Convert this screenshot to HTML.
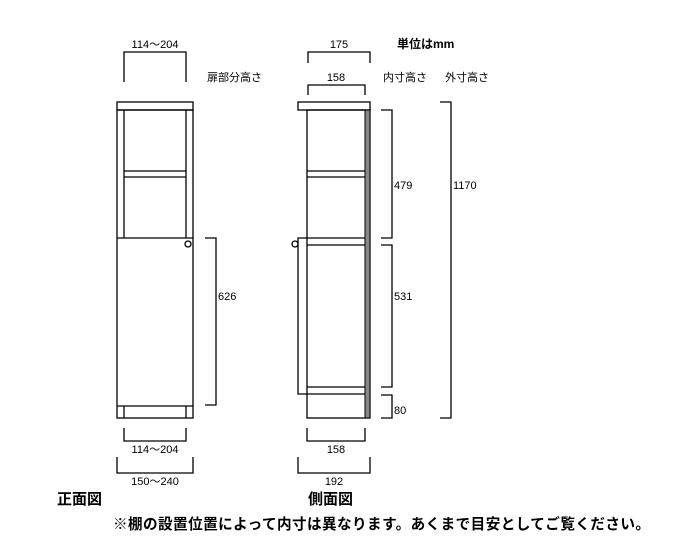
<!DOCTYPE html>
<html><head><meta charset="utf-8"><style>
body{margin:0;background:#fff}
svg{display:block}
text{font-family:"Liberation Sans","Noto Sans CJK JP",sans-serif;fill:#000}
</style></head><body>
<svg width="700" height="556" viewBox="0 0 700 556" xmlns="http://www.w3.org/2000/svg">
<g fill="none" stroke="#000" stroke-width="1.3">
<!-- front view -->
<rect x="117" y="102" width="76" height="8"/>
<rect x="117" y="110" width="76" height="308"/>
<line x1="124" y1="110" x2="124" y2="238"/>
<line x1="186" y1="110" x2="186" y2="238"/>
<line x1="124" y1="171" x2="186" y2="171"/>
<line x1="124" y1="177" x2="186" y2="177"/>
<line x1="117" y1="238" x2="193" y2="238"/>
<line x1="117" y1="406" x2="193" y2="406"/>
<line x1="124" y1="406" x2="124" y2="418"/>
<line x1="186" y1="406" x2="186" y2="418"/>
<circle cx="188" cy="244" r="3"/>
<!-- side view -->
<rect x="298" y="102" width="72" height="8"/>
<rect x="307" y="110" width="63" height="308"/>
<line x1="307" y1="171" x2="365" y2="171"/>
<line x1="307" y1="177" x2="365" y2="177"/>
<line x1="307" y1="238" x2="365" y2="238"/>
<line x1="307" y1="245" x2="365" y2="245"/>
<line x1="307" y1="387" x2="365" y2="387"/>
<line x1="307" y1="394" x2="365" y2="394"/>
<polyline points="307,238 298,238 298,394 307,394"/>
<circle cx="295" cy="244" r="3" fill="#fff"/>
<!-- dims -->
<polyline points="124,82 124,52 186,52 186,82"/>
<polyline points="308,63 308,52 370,52 370,63"/>
<polyline points="308,95 308,85 365,85 365,95"/>
<polyline points="381,110 392,110 392,238 381,238"/>
<polyline points="381,245 392,245 392,387 381,387"/>
<polyline points="381,395 392,395 392,418 381,418"/>
<polyline points="440,102 451,102 451,418 440,418"/>
<polyline points="205,238 216,238 216,405 205,405"/>
<polyline points="124,428 124,441 186,441 186,428"/>
<polyline points="117,457 117,473 193,473 193,457"/>
<polyline points="307,428 307,441 365,441 365,428"/>
<polyline points="298,457 298,473 370,473 370,457"/>
</g>
<rect x="365" y="110" width="5" height="308" fill="#888" stroke="#000" stroke-width="1"/>
<g font-size="11">
<text x="155" y="48" text-anchor="middle">114～204</text>
<text x="339" y="48" text-anchor="middle">175</text>
<text x="336" y="81" text-anchor="middle">158</text>
<text x="207" y="81">扉部分高さ</text>
<text x="383" y="81">内寸高さ</text>
<text x="445" y="81">外寸高さ</text>
<text x="394" y="189">479</text>
<text x="453" y="189">1170</text>
<text x="394" y="300">531</text>
<text x="218" y="300">626</text>
<text x="394" y="414">80</text>
<text x="155" y="453" text-anchor="middle">114～204</text>
<text x="155" y="485" text-anchor="middle">150～240</text>
<text x="336" y="453" text-anchor="middle">158</text>
<text x="334" y="485" text-anchor="middle">192</text>
</g>
<text x="397" y="48" font-size="12" font-weight="bold">単位はmm</text>
<text x="57" y="504" font-size="15" font-weight="bold">正面図</text>
<text x="308" y="504" font-size="15" font-weight="bold">側面図</text>
<text x="113" y="529" font-size="14.6" font-weight="bold" textLength="537">※棚の設置位置によって内寸は異なります。あくまで目安としてご覧ください。</text>
</svg>
</body></html>
